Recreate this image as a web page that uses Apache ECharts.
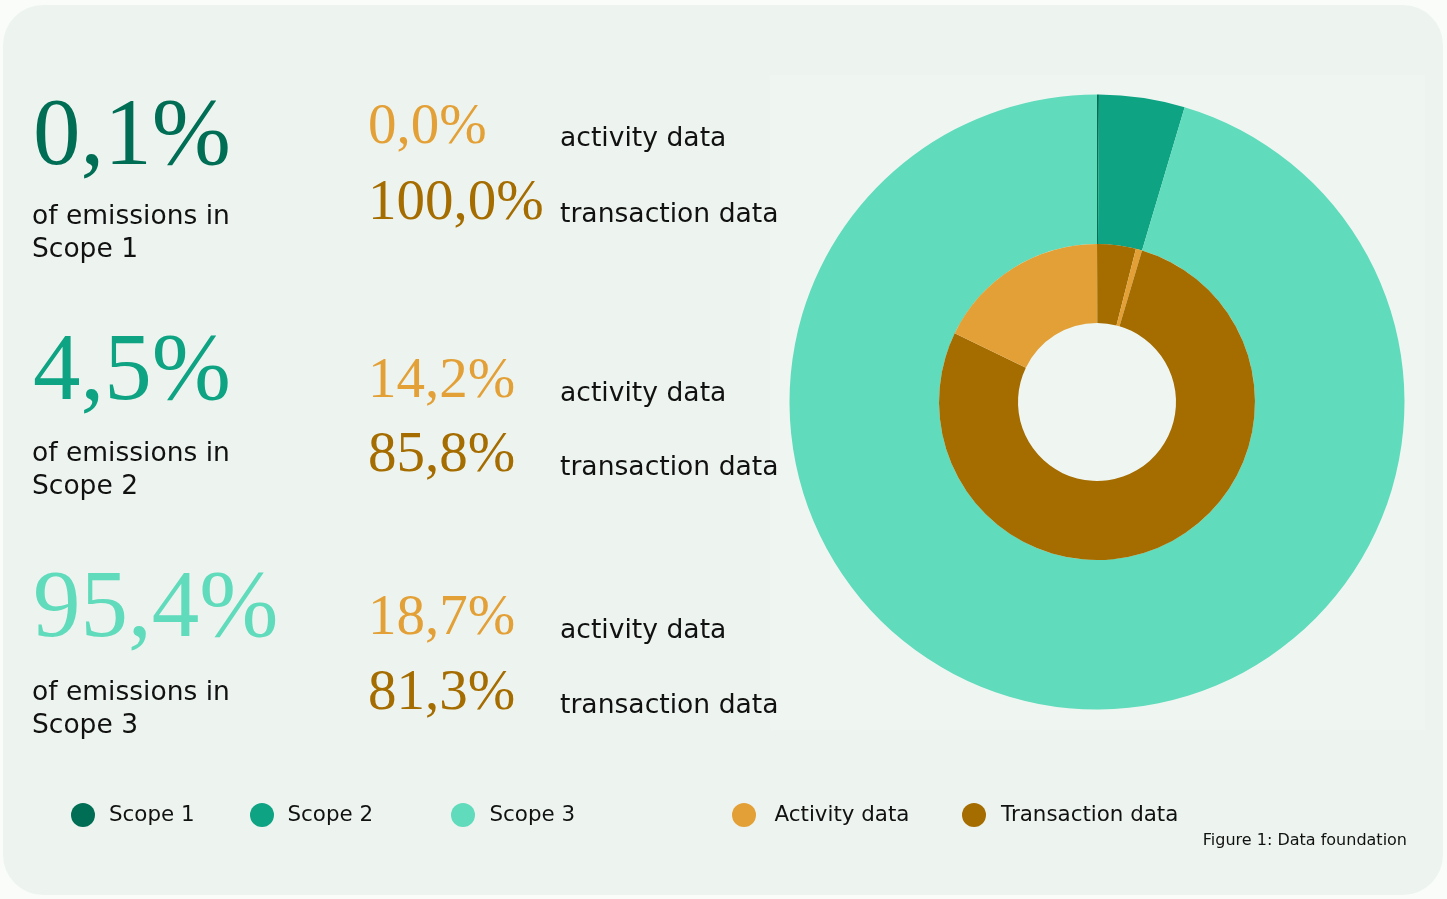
<!DOCTYPE html>
<html>
<head>
<meta charset="utf-8">
<script src="https://cdn.jsdelivr.net/npm/echarts@6/dist/echarts.min.js"></script>
<style>
  html, body { margin: 0; padding: 0; background: #fafcfa; }
  #chart { width: 1447px; height: 899px; }
</style>
</head>
<body>
<div id="chart"></div>
<script>
// ---- data ----
var scopes = ['Scope 1', 'Scope 2', 'Scope 3'];
var scopeShare = [0.1, 4.5, 95.4];          // % of emissions
var activityShare = [0.0, 14.2, 18.7];      // % of scope from activity data
var transactionShare = [100.0, 85.8, 81.3]; // % of scope from transaction data
var sourceNames = ['Activity data', 'Transaction data'];
var shareLabels = ['0,1%', '4,5%', '95,4%'];
var activityLabels = ['0,0%', '14,2%', '18,7%'];
var transactionLabels = ['100,0%', '85,8%', '81,3%'];

// ---- styling ----
var scopeColors = ['#006e55', '#0ea383', '#60dbbb'];
var activityColor = '#e3a037';
var transactionColor = '#a56c00';
var bg = '#edf4ef';

var outerData = scopes.map(function (s, i) {
  return { name: s, value: scopeShare[i], itemStyle: { color: scopeColors[i] } };
});
var innerData = [];
scopes.forEach(function (s, i) {
  innerData.push({ name: sourceNames[1], value: scopeShare[i] * transactionShare[i] / 100, itemStyle: { color: transactionColor } });
  innerData.push({ name: sourceNames[0], value: scopeShare[i] * activityShare[i] / 100, itemStyle: { color: activityColor } });
});

var SERIF = '"Liberation Serif", "DejaVu Serif", serif';
var SANS = '"DejaVu Sans", sans-serif';
function txt(str, x, baseline, size, family, color, align) {
  var k = family === SERIF ? 0.3375 : 0.346;
  return {
    type: 'text', x: x, y: baseline - k * size, z: 10,
    style: { text: str, font: size + 'px ' + family, fill: color, align: align || 'left', verticalAlign: 'middle' }
  };
}

var graphics = [
  { type: 'rect', z: -10, shape: { x: 3, y: 5, width: 1440, height: 890, r: 40 }, style: { fill: bg } },
  { type: 'rect', z: -9, shape: { x: 770, y: 75, width: 655, height: 655 }, style: { fill: '#eff6f2' } }
];
var bigBase = [171, 406, 643];
var subBase = [226, 463, 702];
var actBase = [147, 401, 638];
var trBase = [223, 475, 713];
var labBaseA = [148, 403, 640];
var labBaseT = [224, 477, 715];
for (var i = 0; i < 3; i++) {
  graphics.push(txt(shareLabels[i], 33, bigBase[i], 95, SERIF, scopeColors[i]));
  graphics.push(txt('of emissions in', 32, subBase[i], 26.5, SANS, '#111'));
  graphics.push(txt(scopes[i], 32, subBase[i] + 33, 26.5, SANS, '#111'));
  graphics.push(txt(activityLabels[i], 368, actBase[i], 57, SERIF, activityColor));
  graphics.push(txt(transactionLabels[i], 368, trBase[i], 57, SERIF, transactionColor));
  graphics.push(txt('activity data', 560, labBaseA[i], 26.6, SANS, '#111'));
  graphics.push(txt('transaction data', 560, labBaseT[i], 26.6, SANS, '#111'));
}
graphics.push(txt('Figure 1: Data foundation', 1407, 846, 16, SANS, '#111', 'right'));

function legend(name, left, w) {
  return {
    data: [name], left: left, top: 803, padding: 0, icon: 'circle',
    itemWidth: w, itemHeight: 24, selectedMode: false,
    textStyle: { fontFamily: 'DejaVu Sans', fontSize: 21.4, color: '#111' }
  };
}

var chart = echarts.init(document.getElementById('chart'), null, { renderer: 'canvas' });
chart.setOption({
  backgroundColor: 'transparent',
  animation: false,
  graphic: graphics,
  legend: [
    legend(scopes[0], 71, 42),
    legend(scopes[1], 250, 41),
    legend(scopes[2], 451, 43),
    legend(sourceNames[0], 732, 51),
    legend(sourceNames[1], 962, 44)
  ],
  series: [
    {
      type: 'pie', name: 'Scopes', center: [1097, 402], radius: [158, 307.5],
      startAngle: 90, clockwise: true, label: { show: false }, labelLine: { show: false },
      emphasis: { disabled: true }, silent: true, data: outerData
    },
    {
      type: 'pie', name: 'Sources', center: [1097, 402], radius: [79, 158],
      startAngle: 90, clockwise: true, label: { show: false }, labelLine: { show: false },
      emphasis: { disabled: true }, silent: true, data: innerData
    }
  ]
});
</script>
</body>
</html>
